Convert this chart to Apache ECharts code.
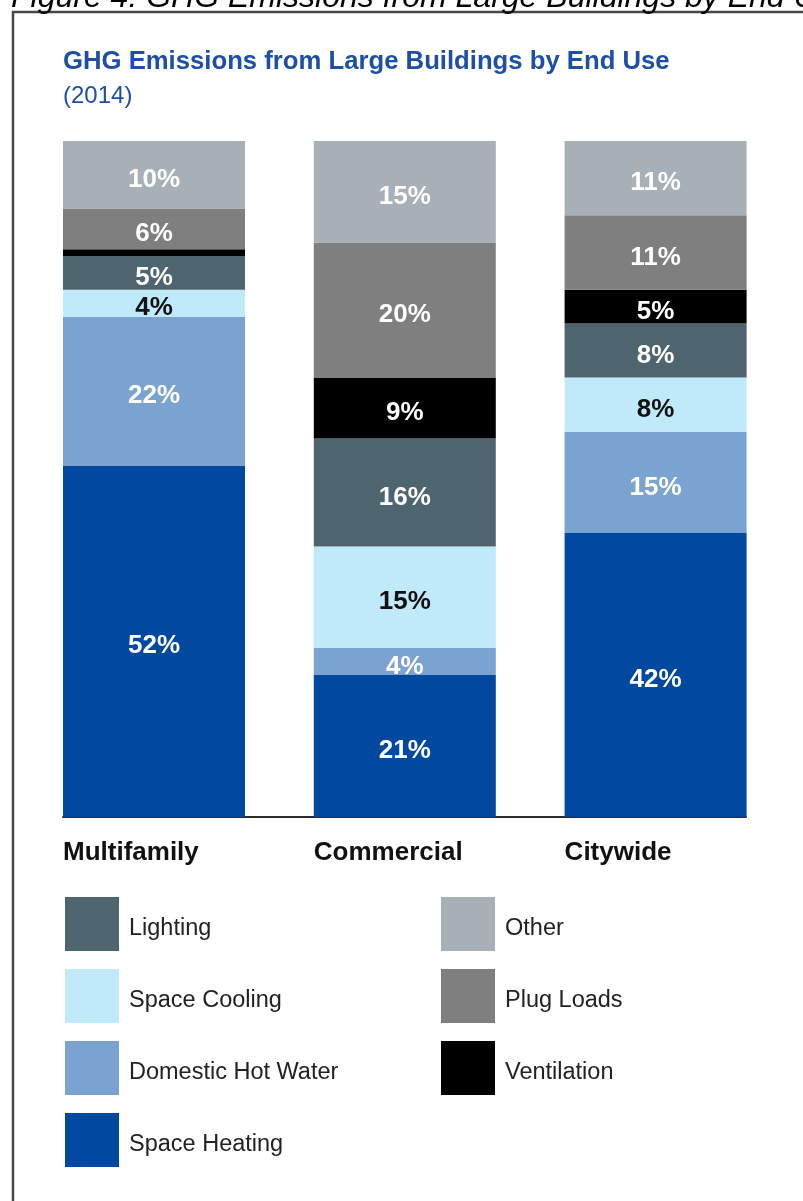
<!DOCTYPE html>
<html>
<head>
<meta charset="utf-8">
<script src="https://cdn.jsdelivr.net/npm/echarts@6/dist/echarts.min.js"></script>
<style>
  html, body { margin: 0; padding: 0; background: #ffffff; }
  #chart { width: 803px; height: 1201px; }
</style>
</head>
<body>
<div id="chart"></div>
<script>
// ---- Data (percent of GHG emissions) ----
const categories = ['Multifamily', 'Commercial', 'Citywide'];
const spaceHeating     = [52, 21, 42];
const domesticHotWater = [22, 4, 15];
const spaceCooling     = [4, 15, 8];
const lighting         = [5, 16, 8];
const ventilation      = [1, 9, 5];
const plugLoads        = [6, 20, 11];
const other            = [10, 15, 11];
const hiddenLabels = { 'Ventilation': [0] }; // 1% sliver has no label

const FONT = '"Liberation Sans", Arial, Helvetica, sans-serif';

const seriesDefs = [
  { name: 'Space Heating',      data: spaceHeating,     color: '#0048a0', label: '#ffffff' },
  { name: 'Domestic Hot Water', data: domesticHotWater, color: '#7aa3d1', label: '#ffffff' },
  { name: 'Space Cooling',      data: spaceCooling,     color: '#c0e9f9', label: '#111111' },
  { name: 'Lighting',           data: lighting,         color: '#4e6570', label: '#ffffff' },
  { name: 'Ventilation',        data: ventilation,      color: '#000000', label: '#ffffff' },
  { name: 'Plug Loads',         data: plugLoads,        color: '#7f7f7f', label: '#ffffff' },
  { name: 'Other',              data: other,            color: '#a7b0b6', label: '#ffffff' }
];

const series = seriesDefs.map(d => ({
  name: d.name,
  type: 'bar',
  stack: 'total',
  xAxisIndex: 0,
  yAxisIndex: 0,
  barWidth: 182,
  itemStyle: { color: d.color },
  label: {
    show: true,
    position: 'inside',
    formatter: p => p.value + '%',
    color: d.label,
    fontFamily: FONT,
    fontWeight: 'bold',
    fontSize: 26,
    offset: [0, 5]
  },
  data: d.data.map((v, i) => {
    const hide = (hiddenLabels[d.name] || []).indexOf(i) >= 0;
    return hide ? { value: v, label: { show: false } } : v;
  })
}));

const legendText = {
  formatter: n => '{t|' + n + '}',
  textStyle: {
    rich: {
      t: { fontFamily: FONT, fontSize: 23.5, color: '#222222', padding: [10, 0, 0, 5] }
    }
  }
};

const chart = echarts.init(document.getElementById('chart'), null, { renderer: 'canvas' });

chart.setOption({
  backgroundColor: '#ffffff',
  animation: false,
  title: [
    {
      text: 'GHG Emissions from Large Buildings by End Use',
      left: 63, top: 49, padding: 0,
      textStyle: { fontFamily: FONT, fontWeight: 'bold', fontSize: 25.7, color: '#1d4fa6' }
    },
    {
      text: '(2014)',
      left: 63, top: 84, padding: 0,
      textStyle: { fontFamily: FONT, fontWeight: 'normal', fontSize: 24, color: '#1d4fa6' }
    }
  ],
  grid: [
    { left: 28.6, right: 22, top: 141, bottom: 384, containLabel: false },
    { left: 63, right: 57, top: 141, bottom: 384, containLabel: false }
  ],
  xAxis: [
    {
      type: 'category',
      gridIndex: 0,
      data: categories,
      axisTick: { show: false },
      axisLine: { show: false },
      axisLabel: {
        show: true,
        margin: 23,
        align: 'center',
        formatter: v => '{a|' + v + '}',
        rich: {
          a: { width: 182, align: 'left', fontFamily: FONT, fontWeight: 'bold', fontSize: 26, color: '#111111' }
        }
      }
    },
    {
      type: 'value',
      gridIndex: 1,
      min: 0, max: 1,
      splitLine: { show: false },
      axisTick: { show: false },
      axisLabel: { show: false },
      axisLine: { show: true, onZero: false, lineStyle: { color: '#2a2a2a', width: 2 } }
    }
  ],
  yAxis: [
    { type: 'value', gridIndex: 0, min: 0, max: 100, show: false },
    { type: 'value', gridIndex: 1, min: 0, max: 100, show: false }
  ],
  legend: [
    Object.assign({
      orient: 'vertical', left: 65, top: 897, padding: 0,
      itemWidth: 54, itemHeight: 54, itemGap: 18,
      icon: 'rect', selectedMode: false,
      data: ['Lighting', 'Space Cooling', 'Domestic Hot Water', 'Space Heating']
    }, legendText),
    Object.assign({
      orient: 'vertical', left: 441, top: 897, padding: 0,
      itemWidth: 54, itemHeight: 54, itemGap: 18,
      icon: 'rect', selectedMode: false,
      data: ['Other', 'Plug Loads', 'Ventilation']
    }, legendText)
  ],
  graphic: [
    {
      type: 'rect', silent: true,
      shape: { x: 13, y: 12, width: 900, height: 1300 },
      style: { fill: 'none', stroke: '#474747', lineWidth: 2.5 }
    },
    {
      type: 'text', silent: true, left: 11, top: -18,
      style: {
        text: 'Figure 4: GHG Emissions from Large Buildings by End Use',
        font: 'italic 32px ' + FONT, fill: '#000000'
      }
    }
  ],
  series: series
});
</script>
</body>
</html>
